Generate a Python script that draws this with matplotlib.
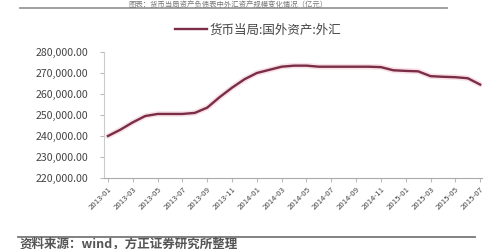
#!/usr/bin/env python3
# coding=utf-8

import numpy as np
import matplotlib
matplotlib.use("Agg")
import matplotlib.pyplot as plt

plt.rcParams['font.family'] = ['Noto Sans CJK SC', 'DejaVu Sans']

# monthly data, 2013-01 .. 2015-07
months = ["2013-01", "2013-02", "2013-03", "2013-04", "2013-05", "2013-06",
          "2013-07", "2013-08", "2013-09", "2013-10", "2013-11", "2013-12",
          "2014-01", "2014-02", "2014-03", "2014-04", "2014-05", "2014-06",
          "2014-07", "2014-08", "2014-09", "2014-10", "2014-11", "2014-12",
          "2015-01", "2015-02", "2015-03", "2015-04", "2015-05", "2015-06",
          "2015-07"]
fx = [240000, 243000, 246500, 249500, 250500, 250500,
      250500, 251000, 253500, 258500, 263000, 267000,
      270000, 271500, 273000, 273500, 273500, 273000,
      273000, 273000, 273000, 273000, 272800, 271300,
      271000, 270800, 268500, 268200, 268000, 267500,
      264500]
yticks = [220000, 230000, 240000, 250000, 260000, 270000, 280000]

title = "图表：货币当局资产负债表中外汇资产规模变化情况（亿元）"
legend_label = "货币当局:国外资产:外汇"
source = "资料来源：wind，方正证券研究所整理"

fig = plt.figure(figsize=(4.85, 2.49), dpi=100)
ax = fig.add_axes([104/485, 1-178/249, 378/485, 126/249])

x = np.arange(len(months))
ax.plot(x, fx, color="#f3cdd6", lw=4, alpha=0.6, solid_capstyle="round")
ax.plot(x, fx, color="#7b2d47", lw=1.7, label=legend_label)

ax.set_ylim(220000, 280000)
ax.set_xlim(-0.32, 30.15)
ax.set_yticks(yticks)
ax.set_yticklabels(["{:,.2f}".format(v) for v in yticks], fontsize=7.6, color="#444444")
ax.set_xticks(x[::2])
ax.set_xticklabels(months[::2], rotation=45, ha="right", rotation_mode="anchor",
                   fontsize=5.6, color="#444444")
ax.tick_params(axis="y", length=3, color="#bbbbbb", pad=8)
ax.tick_params(axis="x", length=3, color="#bbbbbb", pad=2)
for s in ["top", "right"]:
    ax.spines[s].set_visible(False)
ax.spines["left"].set_color("#cccccc")
ax.spines["bottom"].set_color("#aaaaaa")

fig.legend(loc="center", bbox_to_anchor=(258/485, 1-30/249), frameon=False,
           fontsize=9, handlelength=2.6, handletextpad=0.2,
           labelcolor="#444444")

# title squeezed into the strip above the top rule
fig.text(228/485, 1-0.5/249, title, fontsize=5.3, color="#777777", ha="center", va="top")
fig.add_artist(plt.Line2D([20/485, 447/485], [1-8/249, 1-8/249], color="#999999", lw=1.3))

# source footer
fig.add_artist(plt.Line2D([18/485, 475/485], [1-237/249, 1-237/249], color="#777777", lw=1.3))
fig.text(20/485, 1-244/249, source, fontsize=9, color="#555555", fontweight="bold",
         ha="left", va="center")

fig.savefig("out.png", dpi=100)
